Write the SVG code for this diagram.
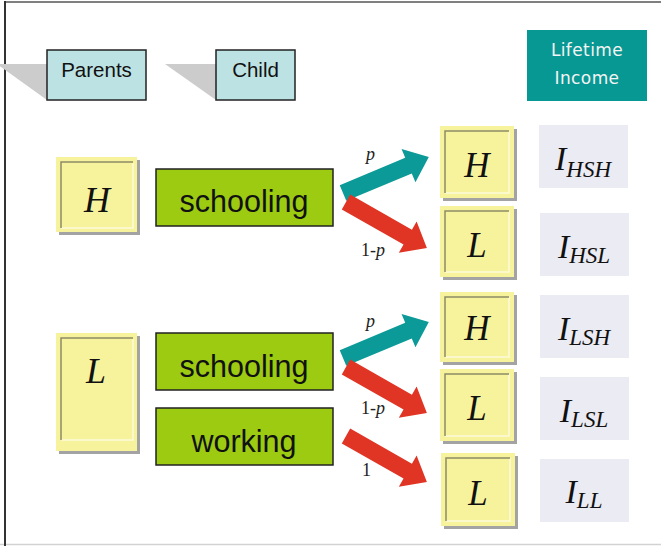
<svg xmlns="http://www.w3.org/2000/svg" width="661" height="546" viewBox="0 0 661 546">
  <style>
    .label { font-family: "Liberation Sans", Arial, sans-serif; fill: #111; text-anchor: middle; }
    .tag { fill: #bde2e3; stroke: #222; stroke-width: 1.5; }
    .tail { fill: #cccccc; }
    .act { fill: #9ccb12; stroke: #222; stroke-width: 1.5; }
    .state { fill: #f7f39d; }
    .shadow { fill: #a3a3a3; }
    .edge-dark { fill: none; stroke: #8e8c68; stroke-width: 1.5; }
    .edge-light { fill: none; stroke: #fdfbdc; stroke-width: 1.5; }
    .math { font-family: "Liberation Serif", "Times New Roman", serif; font-style: italic; fill: #111; text-anchor: middle; }
    .inc { fill: #ebebf3; }
    .prob { font-family: "Liberation Serif", "Times New Roman", serif; font-size: 18px; fill: #222; }
    .teal { fill: #0b9a97; }
    .red { fill: #e03424; }
  </style>
  <defs>
    <path id="arrow" d="M0,-8.5 L71,-8.5 L71,-18 L93,0 L71,18 L71,8.5 L0,8.5 Z"/>
  </defs>

  <!-- frame -->
  <line x1="0" y1="544.5" x2="661" y2="544.5" stroke="#d2d2d2" stroke-width="1.5"/>
  <line x1="5" y1="2" x2="661" y2="2" stroke="#555" stroke-width="1.5"/>
  <line x1="5" y1="1" x2="5" y2="546" stroke="#333" stroke-width="2"/>

  <!-- legend -->
  <g id="legend-parents">
    <polygon class="tail" points="-3,64 47,64 47,100"/>
    <rect class="tag" x="47" y="50" width="99" height="50"/>
    <text class="label" x="96.5" y="77" font-size="20.5">Parents</text>
  </g>
  <g id="legend-child">
    <polygon class="tail" points="165,64 216,64 216,100"/>
    <rect class="tag" x="216" y="50" width="79" height="50"/>
    <text class="label" x="255.5" y="77" font-size="20.5">Child</text>
  </g>
  <g id="lifetime-income">
    <rect x="527" y="30" width="120" height="71" fill="#089893"/>
    <text x="587" y="56" font-family="DejaVu Sans, sans-serif" font-size="17" fill="#f4f4f4" text-anchor="middle" letter-spacing="0.4">Lifetime</text>
    <text x="587" y="84" font-family="DejaVu Sans, sans-serif" font-size="17" fill="#f4f4f4" text-anchor="middle" letter-spacing="0.4">Income</text>
  </g>

  <!-- parent types -->
  <g id="parent-H">
    <rect class="shadow" x="59" y="160" width="81" height="75"/>
    <rect class="state" x="56" y="157" width="81" height="75"/>
    <polyline class="edge-light" points="133,163 133,228 61,228"/>
    <polyline class="edge-dark" points="61,228 61,162 133,162"/>
    <text class="math" x="97" y="212" font-size="36">H</text>
  </g>
  <g id="parent-L">
    <rect class="shadow" x="59" y="336" width="81" height="118"/>
    <rect class="state" x="56" y="333" width="81" height="118"/>
    <polyline class="edge-light" points="133,339 133,440 61,440"/>
    <polyline class="edge-dark" points="61,440 61,338 133,338"/>
    <text class="math" x="96" y="383" font-size="36">L</text>
  </g>

  <!-- choices -->
  <g id="choice-schooling-H">
    <rect class="act" x="156" y="169" width="177" height="57"/>
    <text class="label" x="244" y="212" font-size="30.5">schooling</text>
  </g>
  <g id="choice-schooling-L">
    <rect class="act" x="156" y="333" width="177" height="57"/>
    <text class="label" x="244" y="377" font-size="30.5">schooling</text>
  </g>
  <g id="choice-working-L">
    <rect class="act" x="156" y="408" width="177" height="57"/>
    <text class="label" x="244" y="452" font-size="30.5">working</text>
  </g>

  <!-- child outcomes -->
  <g id="child-HSH">
    <rect class="shadow" x="443" y="129" width="74" height="72"/>
    <rect class="state" x="440" y="126" width="74" height="72"/>
    <polyline class="edge-light" points="509,131 509,193 445,193"/>
    <polyline class="edge-dark" points="445,193 445,131 509,131"/>
    <text class="math" x="477" y="177" font-size="35">H</text>
  </g>
  <g id="child-HSL">
    <rect class="shadow" x="443" y="209" width="74" height="71"/>
    <rect class="state" x="440" y="206" width="74" height="71"/>
    <polyline class="edge-light" points="509,211 509,272 445,272"/>
    <polyline class="edge-dark" points="445,272 445,211 509,211"/>
    <text class="math" x="477" y="257" font-size="35">L</text>
  </g>
  <g id="child-LSH">
    <rect class="shadow" x="443" y="295" width="74" height="70"/>
    <rect class="state" x="440" y="292" width="74" height="70"/>
    <polyline class="edge-light" points="509,297 509,357 445,357"/>
    <polyline class="edge-dark" points="445,357 445,297 509,297"/>
    <text class="math" x="477" y="340" font-size="35">H</text>
  </g>
  <g id="child-LSL">
    <rect class="shadow" x="443" y="372" width="74" height="72"/>
    <rect class="state" x="440" y="369" width="74" height="72"/>
    <polyline class="edge-light" points="509,374 509,436 445,436"/>
    <polyline class="edge-dark" points="445,436 445,374 509,374"/>
    <text class="math" x="477" y="420" font-size="35">L</text>
  </g>
  <g id="child-LL">
    <rect class="shadow" x="444" y="456" width="74" height="73"/>
    <rect class="state" x="441" y="453" width="74" height="73"/>
    <polyline class="edge-light" points="510,458 510,521 446,521"/>
    <polyline class="edge-dark" points="446,521 446,458 510,458"/>
    <text class="math" x="478" y="505" font-size="35">L</text>
  </g>

  <!-- lifetime incomes -->
  <g id="income-HSH">
    <rect class="inc" x="539" y="125" width="89" height="63"/>
    <text class="math" x="583" y="170" font-size="34">I<tspan font-size="23" dy="7">HSH</tspan></text>
  </g>
  <g id="income-HSL">
    <rect class="inc" x="540" y="213" width="89" height="63"/>
    <text class="math" x="584" y="258" font-size="34">I<tspan font-size="23" dy="5">HSL</tspan></text>
  </g>
  <g id="income-LSH">
    <rect class="inc" x="540" y="295" width="89" height="63"/>
    <text class="math" x="584" y="340" font-size="34">I<tspan font-size="23" dy="5">LSH</tspan></text>
  </g>
  <g id="income-LSL">
    <rect class="inc" x="540" y="377" width="89" height="63"/>
    <text class="math" x="584" y="422" font-size="34">I<tspan font-size="23" dy="5">LSL</tspan></text>
  </g>
  <g id="income-LL">
    <rect class="inc" x="540" y="459" width="89" height="63"/>
    <text class="math" x="584" y="503" font-size="34">I<tspan font-size="23" dy="5">LL</tspan></text>
  </g>

  <!-- transitions -->
  <g id="connectors">
    <use href="#arrow" class="teal" transform="translate(343,193) rotate(-22.7)"/>
    <use href="#arrow" class="red" transform="translate(346,202) rotate(29.6)"/>
    <use href="#arrow" class="teal" transform="translate(343,358) rotate(-22.7)"/>
    <use href="#arrow" class="red" transform="translate(346,367) rotate(29.6)"/>
    <use href="#arrow" class="red" transform="translate(346,436) rotate(29.6)"/>
    <text class="prob" x="366" y="160" font-style="italic">p</text>
    <text class="prob" x="361" y="256">1-<tspan font-style="italic">p</tspan></text>
    <text class="prob" x="366" y="327" font-style="italic">p</text>
    <text class="prob" x="361" y="414">1-<tspan font-style="italic">p</tspan></text>
    <text class="prob" x="362" y="476">1</text>
  </g>
</svg>
